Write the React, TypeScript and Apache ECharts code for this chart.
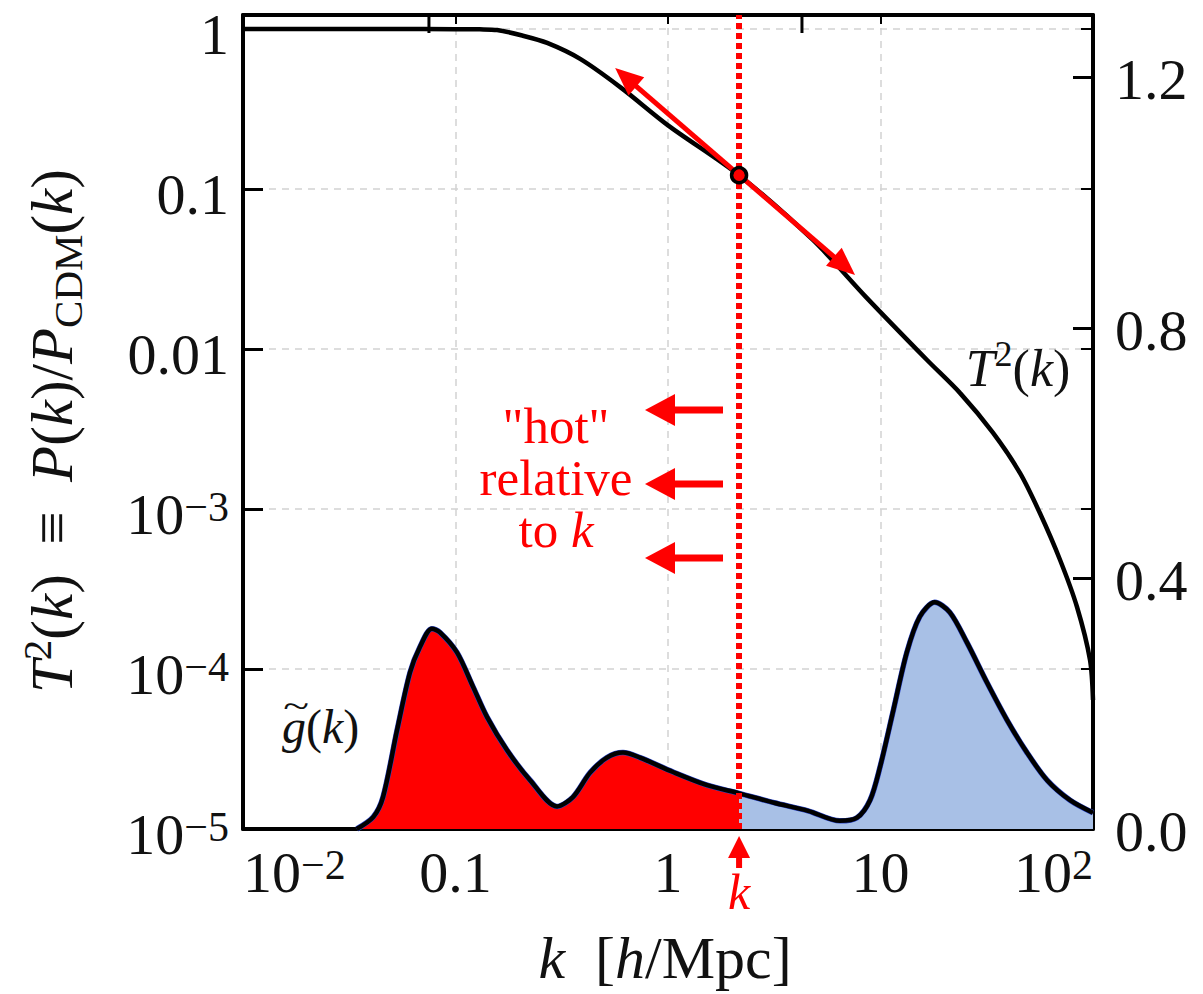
import React, { useEffect, useRef } from 'react';
import * as echarts from 'echarts';

// ---- data ----
// transfer function T^2(k) on the left log axis
const kT = [0.01, 0.05, 0.1, 0.13, 0.157, 0.206, 0.27, 0.386, 0.6, 1.0, 2.16, 4.81, 8.55, 16.6, 23.7, 33.8, 45.3, 56.3, 70, 84.1, 96.8, 100];
const T2 = [1.0, 1.0, 0.998, 0.995, 0.985, 0.91, 0.818, 0.65, 0.43, 0.25, 0.122, 0.048, 0.0211, 0.0085, 0.0053, 0.003, 0.00168, 0.00094, 0.00048, 0.000244, 0.000114, 0.000064];
// weight function g~(k) on the right linear axis
const kG = [0.0343, 0.041, 0.0456, 0.0531, 0.0611, 0.0681, 0.0774, 0.0845, 0.1016, 0.121, 0.1406, 0.1746, 0.2244, 0.3006, 0.357, 0.43, 0.516, 0.614, 0.738, 1.056, 1.527, 2.16, 3.155, 4.56, 6.44, 7.75, 8.93, 9.95, 11.5, 13.3, 15.3, 18.0, 21.2, 25.5, 31.7, 39.4, 48.9, 60.8, 78, 100];
const gK = [0.0, 0.019, 0.051, 0.158, 0.25, 0.291, 0.32, 0.314, 0.282, 0.227, 0.179, 0.126, 0.078, 0.036, 0.051, 0.09, 0.114, 0.122, 0.114, 0.091, 0.07, 0.057, 0.042, 0.029, 0.013, 0.018, 0.046, 0.099, 0.19, 0.282, 0.339, 0.362, 0.346, 0.298, 0.234, 0.174, 0.122, 0.078, 0.046, 0.026];
const kStar = 2.16;
// tangent arrow end points (k, T^2)
const tangentK = [0.564, 7.59];
const tangentV = [0.57, 0.029];
// extra long tick marks on the top spine (k)
const topMarkK = [0.075, 4.27];
// tick exponents / values
const xExps = [-2, -1, 0, 1, 2];
const yExps = [-5, -4, -3, -2, -1, 0];
const rightTicks = [0.0, 0.4, 0.8, 1.2];

const FONT = '"Liberation Serif", "Times New Roman", serif';
const RED = '#ff0000';
const BLUE = '#a8c0e6';
const INK = '#111111';

const decadeLabel = (e: number, kind: 'x' | 'y') => {
  if (e === 0) return '{b|1}';
  if (e === -1) return '{b|0.1}';
  if (e === -2 && kind === 'y') return '{b|0.01}';
  if (e === 1) return '{b|10}';
  return '{b|10}{s|' + (e < 0 ? '\u2212' + -e : String(e)) + '}';
};

const RICH = {
  b: { fontSize: 58, fontFamily: FONT, color: INK, lineHeight: 56 },
  s: { fontSize: 42, fontFamily: FONT, color: INK, lineHeight: 22, verticalAlign: 'top' },
};

function tok(size: number, color: string, extra: any = {}) {
  return { fontSize: size, fontFamily: FONT, fill: color, color, ...extra };
}

export default function App() {
  const ref = useRef<HTMLDivElement>(null);
  useEffect(() => {
    if (!ref.current) return;
    const chart = echarts.init(ref.current, null, { renderer: 'svg' });
    const tData = kT.map((k, i) => [k, T2[i]]);
    const gData = kG.map((k, i) => [k, gK[i]]);
    const gRed = gData.filter((d) => d[0] <= kStar);
    const gBlue = gData.filter((d) => d[0] >= kStar);
    const starIdx = kT.indexOf(kStar);
    const xMin = Math.pow(10, xExps[0]);
    const xMax = Math.pow(10, xExps[xExps.length - 1]);
    const yMin = Math.pow(10, yExps[0]);
    const yMax = Math.pow(10, 0.0875);

    const frame = { show: true, onZero: false, lineStyle: { color: '#000', width: 4 } };
    const dashed = { show: true, lineStyle: { color: '#d2d2d2', width: 1.5, type: [7, 6] } };

    const option: any = {
      animation: false,
      backgroundColor: '#ffffff',
      grid: { left: 243, top: 15, width: 850, height: 814 },
      xAxis: [
        {
          type: 'log', logBase: 10, min: xMin, max: xMax, position: 'bottom',
          axisLine: frame,
          axisTick: { show: true, inside: true, length: 10, lineStyle: { color: '#000', width: 2 } },
          axisLabel: {
            margin: 15, fontSize: 58, fontFamily: FONT, color: INK, rich: RICH,
            alignMinLabel: 'left', alignMaxLabel: 'right', showMinLabel: true, showMaxLabel: true,
            formatter: (v: number) => {
              const e = Math.log10(v);
              const r = Math.round(e);
              if (Math.abs(e - r) > 1e-6 || !xExps.includes(r)) return '';
              return decadeLabel(r, 'x');
            },
          },
          splitLine: dashed,
        },
        {
          type: 'log', logBase: 10, min: xMin, max: xMax, position: 'top',
          axisLine: frame,
          axisTick: { show: true, inside: true, length: 9, lineStyle: { color: '#000', width: 2 } },
          axisLabel: { show: false },
          splitLine: { show: false },
        },
      ],
      yAxis: [
        {
          type: 'log', logBase: 10, min: yMin, max: yMax, position: 'left',
          axisLine: frame,
          axisTick: { show: true, inside: true, length: 20, lineStyle: { color: '#000', width: 3 } },
          axisLabel: {
            margin: 14, fontSize: 58, fontFamily: FONT, color: INK, rich: RICH, padding: [10, 0, 0, 0],
            formatter: (v: number) => {
              const e = Math.log10(v);
              const r = Math.round(e);
              if (Math.abs(e - r) > 1e-6 || !yExps.includes(r)) return '';
              return decadeLabel(r, 'y');
            },
          },
          splitLine: dashed,
        },
        {
          type: 'value', min: rightTicks[0], max: 1.3, interval: rightTicks[1] - rightTicks[0], position: 'right',
          axisLine: frame,
          axisTick: { show: true, inside: true, length: 20, lineStyle: { color: '#000', width: 3 } },
          axisLabel: {
            margin: 22, fontSize: 58, fontFamily: FONT, color: INK, rich: RICH, showMaxLabel: false, padding: [4, 0, 0, 0],
            formatter: (v: number) => (rightTicks.some((t) => Math.abs(t - v) < 1e-6) ? '{b|' + v.toFixed(1) + '}' : ''),
          },
          splitLine: { show: false },
        },
        {
          type: 'log', logBase: 10, min: yMin, max: yMax, position: 'right',
          axisLine: { show: false },
          axisTick: { show: true, inside: true, length: 12, lineStyle: { color: '#000', width: 2 } },
          axisLabel: { show: false },
          splitLine: { show: false },
        },
      ],
      series: [
        {
          name: 'gRed', type: 'line', xAxisIndex: 0, yAxisIndex: 1, data: gRed, smooth: 0.3,
          showSymbol: false, silent: true, lineStyle: { width: 0 },
          areaStyle: { color: RED, opacity: 1, origin: 'start' }, z: 2,
        },
        {
          name: 'gBlue', type: 'line', xAxisIndex: 0, yAxisIndex: 1, data: gBlue, smooth: 0.3,
          showSymbol: false, silent: true, lineStyle: { width: 0 },
          areaStyle: { color: BLUE, opacity: 1, origin: 'start' }, z: 2,
        },
        {
          name: 'gEdge', type: 'line', xAxisIndex: 0, yAxisIndex: 1, data: gData, smooth: 0.3,
          showSymbol: false, silent: true, lineStyle: { width: 5.5, color: '#2a45c8' }, z: 3,
        },
        {
          name: 'g', type: 'line', xAxisIndex: 0, yAxisIndex: 1, data: gData, smooth: 0.3,
          showSymbol: false, silent: true, lineStyle: { width: 4.5, color: '#000' }, z: 4,
        },
        {
          name: 'T2', type: 'line', xAxisIndex: 0, yAxisIndex: 0, data: tData, smooth: 0.3,
          showSymbol: false, silent: true, lineStyle: { width: 4.5, color: '#000' }, z: 5,
          markLine: {
            silent: true, symbol: 'none', label: { show: false },
            lineStyle: { color: RED, width: 6, type: [6, 4] },
            data: [{ xAxis: kStar }],
            z: 6,
          },
        },
        {
          name: 'star', type: 'scatter', xAxisIndex: 0, yAxisIndex: 0,
          data: [[kT[starIdx], T2[starIdx]]], symbol: 'circle', symbolSize: 15,
          itemStyle: { color: RED, borderColor: '#000', borderWidth: 3.5, opacity: 1 }, z: 100, silent: true,
        },
      ],
    };
    chart.setOption(option);

    // ---- annotations ----
    const px = (k: number, v: number) => chart.convertToPixel({ xAxisIndex: 0, yAxisIndex: 0 }, [k, v]) as number[];
    const head = (tip: number[], ux: number, uy: number, len: number, half: number) => {
      const bx = tip[0] - ux * len;
      const by = tip[1] - uy * len;
      return [[tip[0], tip[1]], [bx - uy * half, by + ux * half], [bx + uy * half, by - ux * half]];
    };
    const g: any[] = [];
    const addArrow = (from: number[], to: number[], len: number, half: number, w: number, both: boolean) => {
      const dx = to[0] - from[0];
      const dy = to[1] - from[1];
      const L = Math.hypot(dx, dy);
      const ux = dx / L;
      const uy = dy / L;
      const s0 = both ? [from[0] + ux * len * 0.7, from[1] + uy * len * 0.7] : from;
      const s1 = [to[0] - ux * len * 0.7, to[1] - uy * len * 0.7];
      g.push({ type: 'line', z: 50, shape: { x1: s0[0], y1: s0[1], x2: s1[0], y2: s1[1] }, style: { stroke: RED, lineWidth: w } });
      g.push({ type: 'polygon', z: 50, shape: { points: head(to, ux, uy, len, half) }, style: { fill: RED } });
      if (both) g.push({ type: 'polygon', z: 50, shape: { points: head(from, -ux, -uy, len, half) }, style: { fill: RED } });
    };
    addArrow(px(tangentK[0], tangentV[0]), px(tangentK[1], tangentV[1]), 28, 12, 5, true);
    [410, 484, 558].forEach((y) => addArrow([723, y], [645, y], 30, 16, 7, false));
    const sx = px(kStar, 1)[0];
    addArrow([sx, 868], [sx, 836], 22, 11, 6, false);

    const topY = px(1, yMax)[1];
    topMarkK.forEach((k) => {
      const x = px(k, 1)[0];
      g.push({ type: 'line', z: 40, shape: { x1: x, y1: topY, x2: x, y2: topY + 18 }, style: { stroke: '#000', lineWidth: 3 } });
    });

    g.push({
      type: 'text', x: sx, y: 892, z: 60,
      style: { text: 'k', fontSize: 50, fontStyle: 'italic', fontFamily: FONT, fill: RED, align: 'center', verticalAlign: 'middle' },
    });
    g.push({
      type: 'text', x: 556, y: 478, z: 60,
      style: {
        text: '{r|"hot"}\n{r|relative}\n{r|to }{i|k}',
        align: 'center', verticalAlign: 'middle', fontSize: 51, fontFamily: FONT, fill: RED,
        rich: { r: tok(51, RED, { lineHeight: 52 }), i: tok(51, RED, { lineHeight: 52, fontStyle: 'italic' }) },
      },
    });
    g.push({
      type: 'text', x: 1018, y: 368, z: 60,
      style: {
        text: '{i|T}{u|2}{r|(}{i|k}{r|)}', align: 'center', verticalAlign: 'middle', fontSize: 52, fontFamily: FONT, fill: INK,
        rich: { i: tok(52, INK, { lineHeight: 64, fontStyle: 'italic' }), r: tok(52, INK, { lineHeight: 64 }), u: tok(36, INK, { lineHeight: 34, verticalAlign: 'top' }) },
      },
    });
    g.push({
      type: 'text', x: 282, y: 726, z: 60,
      style: {
        text: '{i|g}{r|(}{i|k}{r|)}', align: 'left', verticalAlign: 'middle', fontSize: 48, fontFamily: FONT, fill: INK,
        rich: { i: tok(48, INK, { fontStyle: 'italic' }), r: tok(48, INK) },
      },
    });
    g.push({
      type: 'text', x: 296, y: 705, z: 60, scaleX: 1.4,
      style: { text: '~', align: 'center', verticalAlign: 'middle', fontSize: 34, fontFamily: FONT, fill: INK },
    });
    g.push({
      type: 'text', x: 665, y: 958, z: 60,
      style: {
        text: '{i|k}{r|  [}{i|h}{r|/Mpc]}', align: 'center', verticalAlign: 'middle', fontSize: 60, fontFamily: FONT, fill: INK,
        rich: { i: tok(60, INK, { fontStyle: 'italic' }), r: tok(60, INK) },
      },
    });
    g.push({
      type: 'text', x: 52, y: 431, z: 60, rotation: Math.PI / 2,
      style: {
        text: '{i|T}{u|2}{r|(}{i|k}{r|)  \u2261  }{i|P}{r|(}{i|k}{r|)/}{i|P}{d|CDM}{r|(}{i|k}{r|)}',
        align: 'center', verticalAlign: 'middle', fontSize: 59, fontFamily: FONT, fill: INK,
        rich: {
          i: tok(59, INK, { lineHeight: 72, fontStyle: 'italic' }),
          r: tok(59, INK, { lineHeight: 72 }),
          u: tok(41, INK, { lineHeight: 40, verticalAlign: 'top' }),
          d: tok(41, INK, { lineHeight: 40, verticalAlign: 'bottom' }),
        },
      },
    });
    chart.setOption({ graphic: g });

    return () => chart.dispose();
  }, []);
  return <div ref={ref} style={{ position: 'absolute', left: 0, top: 0, width: 1203, height: 994, background: '#fff' }} />;
}
